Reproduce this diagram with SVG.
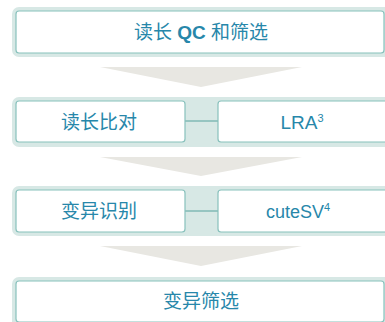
<svg xmlns="http://www.w3.org/2000/svg" width="385" height="322" viewBox="0 0 385 322">
<style>
.band{fill:#d7e8e5;}
.box{fill:#ffffff;stroke:#88c1bc;stroke-width:1.2;}
.arrow{fill:#e8e7e2;}
.conn{stroke:#80bab5;stroke-width:1.5;fill:none;}
.t{font-family:"Liberation Sans","Noto Sans CJK SC",sans-serif;font-size:19px;fill:#2787aa;text-anchor:middle;}
.l{font-size:19px;}
.sup{font-size:11px;}
</style>
<rect width="385" height="322" fill="#ffffff"/>
<g id="arrows">
<polygon class="arrow" points="100,67 302,67 201,87"/>
<polygon class="arrow" points="100,157 302,157 201,176"/>
<polygon class="arrow" points="100,246 302,246 201,266"/>
</g>
<g id="qc">
<rect class="band" x="12" y="7" width="390" height="50" rx="7"/>
<rect class="box" x="16" y="11" width="368" height="42" rx="3"/>
<text class="t" x="201" y="39">读长 <tspan font-weight="bold">QC</tspan> 和筛选</text>
</g>
<g id="row2band">
<rect class="band" x="12" y="97" width="390" height="50" rx="7"/>
</g>
<g id="row3band">
<rect class="band" x="12" y="186" width="390" height="50" rx="7"/>
</g>
<g id="connectors">
<line class="conn" x1="185" y1="121" x2="218" y2="121"/>
<line class="conn" x1="185" y1="211" x2="218" y2="211"/>
</g>
<g id="align">
<rect class="box" x="16" y="101" width="169" height="41" rx="3"/>
<text class="t" x="99" y="129">读长比对</text>
</g>
<g id="lra">
<rect class="box" x="218" y="101" width="170" height="41" rx="3"/>
<text class="t" x="302" y="129"><tspan class="l">LRA</tspan><tspan class="sup" dy="-7">3</tspan></text>
</g>
<g id="call">
<rect class="box" x="16" y="190" width="169" height="42" rx="3"/>
<text class="t" x="99" y="218">变异识别</text>
</g>
<g id="cutesv">
<rect class="box" x="218" y="190" width="170" height="42" rx="3"/>
<text class="t" x="298" y="218" style="font-size:18px">cuteSV<tspan class="sup" dy="-7">4</tspan></text>
</g>
<g id="filter">
<rect class="band" x="12" y="277" width="390" height="60" rx="7"/>
<rect class="box" x="16" y="281" width="368" height="41" rx="3"/>
<text class="t" x="201" y="308">变异筛选</text>
</g>
</svg>
